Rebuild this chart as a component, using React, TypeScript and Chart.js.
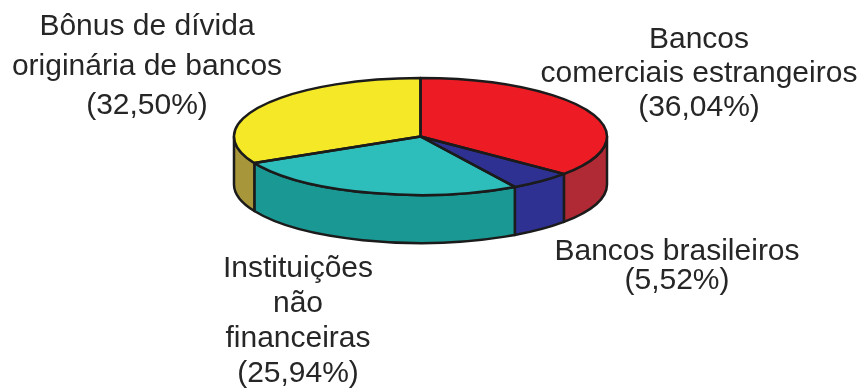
import React, { useEffect, useRef } from "react";
import { Chart, registerables } from "chart.js";

Chart.register(...registerables);

// ---- data ----
const categories = [
  "Bancos comerciais estrangeiros",
  "Bancos brasileiros",
  "Instituições não financeiras",
  "Bônus de dívida originária de bancos",
];
const labelLines = [
  ["Bancos", "comerciais estrangeiros"],
  ["Bancos brasileiros"],
  ["Instituições", "não", "financeiras"],
  ["Bônus de dívida", "originária de bancos"],
];
const shares = [36.04, 5.52, 25.94, 32.5];

// ---- styles / layout ----
const topColors = ["#ED1C24", "#2E3192", "#2DBDBA", "#F5E827"];
const sideColors = ["#B02A35", "#2E3192", "#1A9893", "#A8963A"];
const labelLayout = [
  { x: 699, y: 48, lh: 34 },
  { x: 677, y: 260, lh: 29 },
  { x: 298, y: 277, lh: 35 },
  { x: 147, y: 35, lh: 39.5 },
];
const PIE_RADIUS = 186.5;
const SQUASH = 58.5 / 186.5;
const TARGET_CY = 136.5;
const DEPTH = 48;
const OUTLINE = "#1b1b1b";
const LINE_W = 2.5;

const fmtPct = (v: number) => `(${v.toFixed(2).replace(".", ",")}%)`;

const pie3d = {
  id: "pie3d",
  beforeDatasetsDraw(chart: any) {
    const ctx = chart.ctx;
    const meta = chart.getDatasetMeta(0);
    ctx.save();
    ctx.lineWidth = LINE_W;
    ctx.strokeStyle = OUTLINE;
    ctx.lineJoin = "round";
    meta.data.forEach((arc: any, i: number) => {
      const { x, startAngle, endAngle, outerRadius } = arc;
      const r = outerRadius;
      const ranges: [number, number][] = [];
      for (const base of [-2 * Math.PI, 0, 2 * Math.PI]) {
        const a1 = Math.max(startAngle, base);
        const a2 = Math.min(endAngle, base + Math.PI);
        if (a2 > a1) ranges.push([a1, a2]);
      }
      ranges.forEach(([a1, a2]) => {
        ctx.beginPath();
        ctx.ellipse(x, TARGET_CY, r, r * SQUASH, 0, a1, a2, false);
        ctx.lineTo(x + r * Math.cos(a2), TARGET_CY + r * SQUASH * Math.sin(a2) + DEPTH);
        ctx.ellipse(x, TARGET_CY + DEPTH, r, r * SQUASH, 0, a2, a1, true);
        ctx.closePath();
        ctx.fillStyle = sideColors[i];
        ctx.fill();
        ctx.stroke();
      });
    });
    ctx.restore();
    // project the library-drawn pie into an ellipse
    const cy = meta.data.length ? meta.data[0].y : 0;
    ctx.save();
    ctx.translate(0, TARGET_CY);
    ctx.scale(1, SQUASH);
    ctx.translate(0, -cy);
  },
  afterDatasetsDraw(chart: any) {
    const ctx = chart.ctx;
    ctx.restore();
    const meta = chart.getDatasetMeta(0);
    ctx.save();
    ctx.lineWidth = LINE_W;
    ctx.strokeStyle = OUTLINE;
    ctx.lineJoin = "round";
    meta.data.forEach((arc: any) => {
      const { x, startAngle, endAngle, outerRadius } = arc;
      ctx.beginPath();
      ctx.moveTo(x, TARGET_CY);
      ctx.ellipse(x, TARGET_CY, outerRadius, outerRadius * SQUASH, 0, startAngle, endAngle, false);
      ctx.closePath();
      ctx.stroke();
    });
    ctx.restore();
  },
  afterDraw(chart: any) {
    const ctx = chart.ctx;
    ctx.save();
    ctx.font = '30px "Liberation Sans", Arial, sans-serif';
    ctx.fillStyle = "#262626";
    ctx.textAlign = "center";
    ctx.textBaseline = "alphabetic";
    labelLines.forEach((lines, i) => {
      const L = labelLayout[i];
      const all = [...lines, fmtPct(shares[i])];
      all.forEach((t, j) => ctx.fillText(t, L.x, L.y + j * L.lh));
    });
    ctx.restore();
  },
};

export default function App() {
  const ref = useRef<HTMLCanvasElement>(null);
  useEffect(() => {
    document.body.style.margin = "0";
    if (!ref.current) return;
    const chart = new Chart(ref.current, {
      type: "pie",
      data: {
        labels: categories,
        datasets: [
          {
            data: shares,
            backgroundColor: topColors,
            borderWidth: 0,
            radius: PIE_RADIUS,
          } as any,
        ],
      },
      options: {
        responsive: false,
        animation: false,
        events: [],
        layout: { padding: { left: 234, right: 261, top: 0, bottom: 0 } },
        plugins: { legend: { display: false }, tooltip: { enabled: false } },
      },
      plugins: [pie3d],
    });
    return () => chart.destroy();
  }, []);
  return <canvas ref={ref} width={868} height={392} style={{ display: "block" }} />;
}
